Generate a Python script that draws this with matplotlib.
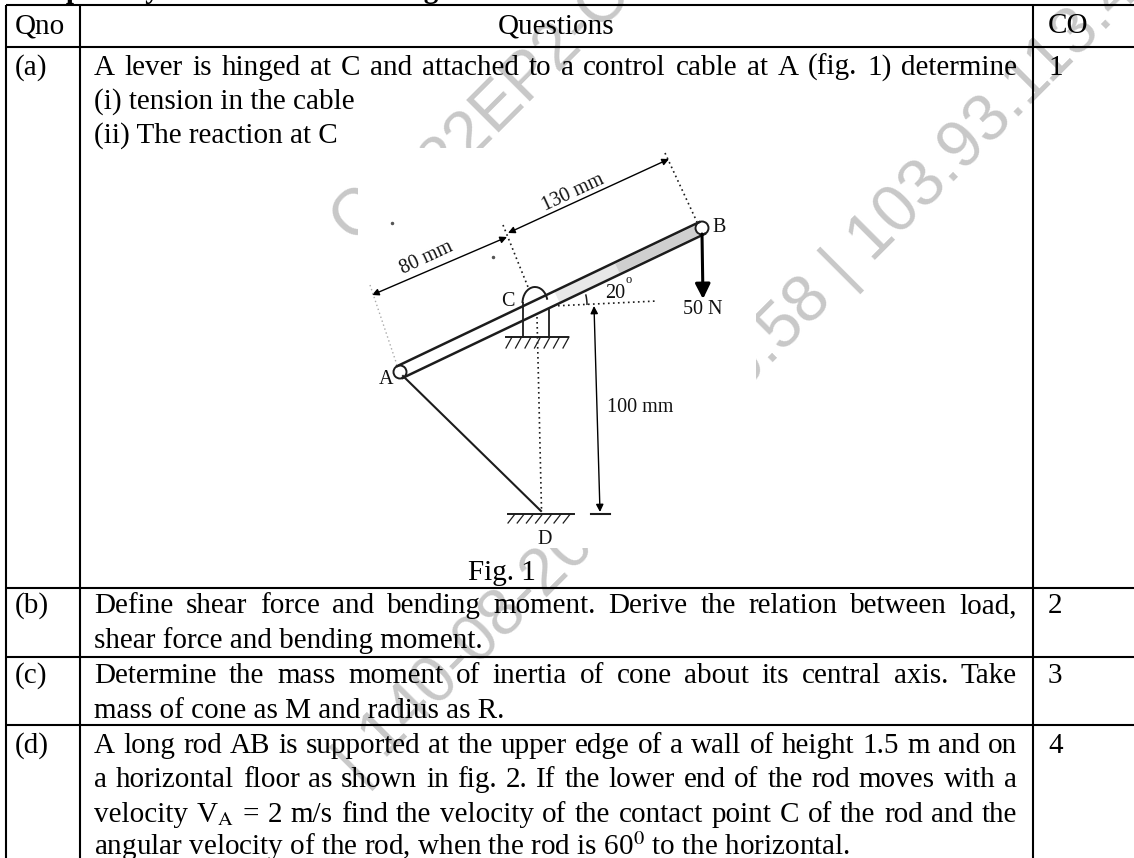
import numpy as np
import matplotlib
matplotlib.use("Agg")
import matplotlib.pyplot as plt
from matplotlib.patches import Arc, FancyArrowPatch, Circle, Rectangle

plt.rcParams['font.family'] = ['Liberation Serif', 'DejaVu Serif']
plt.rcParams['mathtext.fontset'] = 'stix'

W, H = 1134, 858
fig = plt.figure(figsize=(W/100, H/100), dpi=100)
ax = fig.add_axes([0, 0, 1, 1])
ax.set_xlim(0, W); ax.set_ylim(H, 0); ax.axis('off')

title_text = "Compulsory: Answer the following"
header = ["Qno", "Questions", "CO"]
row_labels = ["(a)", "(b)", "(c)", "(d)"]
row_cos = ["1", "2", "3", "4"]
row_baselines = [75, 613, 683, 753]
# (baseline, text, justified)
body_lines = [
    (75, "A lever is hinged at C and attached to a control cable at A (fig. 1) determine", True),
    (109, "(i) tension in the cable", False),
    (143, "(ii) The reaction at C", False),
    (613, "Define shear force and bending moment. Derive the relation between load,", True),
    (648, "shear force and bending moment.", False),
    (683, "Determine the mass moment of inertia of cone about its central axis. Take", True),
    (718, "mass of cone as M and radius as R.", False),
    (753, "A long rod AB is supported at the upper edge of a wall of height 1.5 m and on", True),
    (787, "a horizontal floor as shown in fig. 2. If the lower end of the rod moves with a", True),
    (822, "velocity V$_{\\mathrm{A}}$ = 2 m/s find the velocity of the contact point C of the rod and the", True),
    (855, "angular velocity of the rod, when the rod is 60$^{0}$ to the horizontal.", False),
]
h_rules = [5, 47, 588, 657, 725]
v_rules = [5.5, 80, 1033]
watermarks = [("C", 354, 244), ("22EP2-C", 443, 186), ("| 140-08-20", 359, 785), ("0.58 | 103.93.113.4", 743, 392)]
TEXT_L, TEXT_R = 94, 1017

# watermark lies under the pasted white figure
for s, x, y in watermarks:
    ax.text(x, y, s, fontsize=47.5, color='#c8c8c8', rotation=45, rotation_mode='anchor',
            family='Liberation Sans', ha='left', va='baseline', zorder=1, clip_on=True)
ax.add_patch(Rectangle((358, 148), 398, 400, fc='white', ec='none', zorder=2))

ax.text(6, -2, title_text, fontsize=21, fontweight='bold', va='baseline', zorder=3)

for y in h_rules:
    ax.plot([v_rules[0], W], [y, y], color='k', lw=1.5, zorder=4, solid_capstyle='butt')
for x in v_rules:
    ax.plot([x, x], [h_rules[0], H], color='k', lw=1.5, zorder=4, solid_capstyle='butt')

FS = 21
ax.text(15, 33, header[0], fontsize=FS, va='baseline', zorder=5)
ax.text(556, 33, header[1], fontsize=FS, ha='center', va='baseline', zorder=5)
ax.text(1048, 33, header[2], fontsize=FS, va='baseline', zorder=5)
for lab, co, y in zip(row_labels, row_cos, row_baselines):
    ax.text(15, y, lab, fontsize=FS, va='baseline', zorder=5)
    ax.text(1048, y, co, fontsize=FS, va='baseline', zorder=5)

renderer = fig.canvas.get_renderer()
def width(s):
    t = ax.text(0, 0, s, fontsize=FS)
    w = t.get_window_extent(renderer).width
    t.remove()
    return w

for y, s, just in body_lines:
    if not just:
        ax.text(TEXT_L, y, s, fontsize=FS, va='baseline', zorder=5)
        continue
    words = s.split(' ')
    ws = [width(w) for w in words]
    gap = (TEXT_R - TEXT_L - sum(ws)) / (len(words) - 1)
    x = TEXT_L
    for w, wd in zip(words, ws):
        ax.text(x, y, w, fontsize=FS, va='baseline', zorder=5)
        x += wd + gap
ax.text(468, 580, "Fig. 1", fontsize=FS, va='baseline', zorder=5)

# ---- lever figure
dk = '#1c1c1c'
A = np.array([400, 372]); B = np.array([702, 228])
u = (B-A)/np.linalg.norm(B-A); n = np.array([-u[1], u[0]])
r = 6.5
P = A+0.52*(B-A); Q = B-0.02*(B-A)
ax.plot([P[0], Q[0]], [P[1], Q[1]], color='#e8e8e8', lw=8, solid_capstyle='butt', zorder=5)
P2 = A+0.72*(B-A)
ax.plot([P2[0], Q[0]], [P2[1], Q[1]], color='#cfcfcf', lw=7, solid_capstyle='butt', zorder=5)
for s in (-1, 1):
    p, q = A+s*r*n, B+s*r*n
    ax.plot([p[0], q[0]], [p[1], q[1]], color=dk, lw=1.8, zorder=6)
ax.add_patch(Circle(A, r, fill=False, ec=dk, lw=1.4, zorder=6))
ax.add_patch(Circle(B, r, fill=False, ec=dk, lw=1.4, zorder=6))

def seg(x0, y0, x1, y1, **k):
    k.setdefault('color', dk); k.setdefault('lw', 1.1)
    ax.plot([x0, x1], [y0, y1], zorder=6, **k)

def arrow(x0, y0, x1, y1, style='-|>', ms=10, lw=1.0):
    ax.add_patch(FancyArrowPatch((x0, y0), (x1, y1), arrowstyle=style, mutation_scale=ms,
                                 color='k', lw=lw, shrinkA=0, shrinkB=0, zorder=6))

dots = dict(ls=(0, (1, 2)), lw=1.2)
arrow(507, 237, 372, 295, '<|-|>', 10)
arrow(508, 233, 669, 159, '<|-|>', 10)
seg(665, 153, 697, 222, **dots)
seg(503, 225, 528, 287, **dots)
seg(370, 285, 397, 365, color='#aaaaaa', ls=(0, (1, 2)), lw=1)
# support C
ax.add_patch(Arc((535, 303), 25, 32, theta1=180, theta2=345, ec=dk, lw=1.4, zorder=6))
seg(523, 303, 523, 337, lw=1.3); seg(549, 310, 549, 337, lw=1.3)
seg(506, 337, 568, 337, lw=1.4)
for x in np.arange(512, 572, 9.5):
    seg(x, 337, x-6, 348, lw=0.9)
# dotted centre & D
seg(537, 317, 541.5, 510, **dots)
seg(553, 306, 657, 301, **dots)
ax.add_patch(Arc((543, 305), 88, 88, theta1=-14, theta2=0, ec=dk, lw=1.1, zorder=6))
# 100 mm arrow
arrow(594, 306, 600, 512, '<|-|>', 11)
seg(591, 514, 610, 514, lw=1.5)
# load
arrow(702, 234, 703, 299, '-|>,head_length=0.6,head_width=0.3', 15, 2.2)
# cable
seg(403, 376, 541, 511, lw=1.5)
# ground D
seg(508, 514, 574, 514, lw=1.4)
for x in np.arange(515, 578, 9.2):
    seg(x, 514, x-7, 523, lw=0.9)
# scan specks
specks_x = [493, 392]
specks_y = [257, 223]
ax.plot(specks_x, specks_y, ls='none', marker='o', ms=1.5, color='#555555', zorder=6)

fig_labels = [("80 mm", 427, 258, 25), ("130 mm", 573, 193, 25), ("B", 719, 228, 0), ("C", 508, 301, 0),
              ("A", 386, 380, 0), ("20", 615, 293, 0), ("o", 629, 280, 0),
              ("50 N", 703, 309, 0), ("100 mm", 640, 408, 0), ("D", 545, 540, 0)]
for s, x, y, rot in fig_labels:
    ax.text(x, y, s, fontsize=9 if s == "o" else 14.5, rotation=rot, ha='center', va='center',
            color='#111111', zorder=7)

fig.savefig("out.png", dpi=100)
